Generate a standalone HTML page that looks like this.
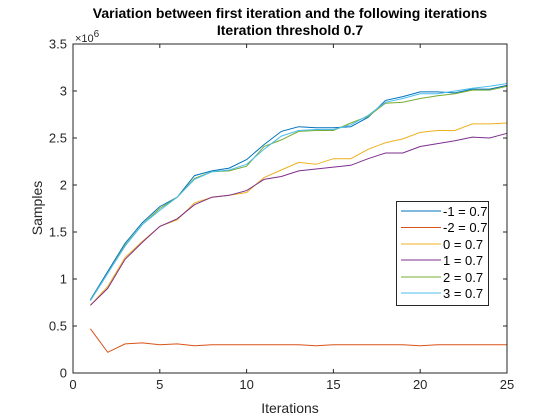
<!DOCTYPE html>
<html><head><meta charset="utf-8"><style>
body{margin:0;background:#fff;}
svg{display:block;font-family:"Liberation Sans",Arial,sans-serif;}
</style></head><body>
<svg id="chart" width="560" height="420">
<rect width="560" height="420" fill="#fff"/>
</svg>
<script>
const xValues=[1,2,3,4,5,6,7,8,9,10,11,12,13,14,15,16,17,18,19,20,21,22,23,24,25];
const seriesM1=[0.78,1.08,1.38,1.6,1.77,1.87,2.1,2.15,2.18,2.27,2.43,2.57,2.62,2.61,2.61,2.62,2.72,2.9,2.94,2.99,2.99,2.98,3.02,3.02,3.06];
const seriesM2=[0.47,0.22,0.31,0.32,0.3,0.31,0.29,0.3,0.3,0.3,0.3,0.3,0.3,0.29,0.3,0.3,0.3,0.3,0.3,0.29,0.3,0.3,0.3,0.3,0.3];
const series0=[0.72,0.92,1.23,1.4,1.56,1.63,1.81,1.87,1.89,1.92,2.08,2.16,2.24,2.22,2.28,2.28,2.38,2.45,2.49,2.56,2.58,2.58,2.65,2.65,2.66];
const series1=[0.72,0.9,1.21,1.39,1.56,1.64,1.79,1.87,1.89,1.94,2.06,2.09,2.15,2.17,2.19,2.21,2.28,2.34,2.34,2.41,2.44,2.47,2.51,2.5,2.55];
const series2=[0.77,1.06,1.36,1.58,1.75,1.87,2.07,2.14,2.15,2.2,2.41,2.48,2.57,2.58,2.58,2.66,2.73,2.87,2.88,2.92,2.95,2.97,3.01,3.01,3.05];
const series3=[0.77,1.06,1.35,1.58,1.73,1.87,2.06,2.14,2.16,2.22,2.38,2.52,2.58,2.59,2.59,2.64,2.74,2.88,2.92,2.97,2.97,3.0,3.03,3.05,3.08];
const seriesNames=["-1 = 0.7","-2 = 0.7","0 = 0.7","1 = 0.7","2 = 0.7","3 = 0.7"];
const xTicks=[0,5,10,15,20,25];
const yTicks=[0,0.5,1,1.5,2,2.5,3,3.5];
const yTickLabels=["0","0.5","1","1.5","2","2.5","3","3.5"];

const L=73,R=507,T=44,B=373;
const xs=v=>L+(v-0)/(25-0)*(R-L);
const ys=v=>B-(v-0)/(3.5-0)*(B-T);
const svg=document.getElementById('chart');
const NS='http://www.w3.org/2000/svg';
function mk(tag,attrs,parent){const e=document.createElementNS(NS,tag);for(const k in attrs)e.setAttribute(k,attrs[k]);(parent||svg).appendChild(e);return e;}

const colors=["#0072BD","#D95319","#EDB120","#7E2F8E","#77AC30","#4DBEEE"];
const allSeries=[seriesM1,seriesM2,series0,series1,series2,series3];
const drawOrder=[0,1,2,3,4,5];
drawOrder.forEach(i=>{
  const pts=allSeries[i].map((v,j)=>xs(xValues[j]).toFixed(1)+','+ys(v).toFixed(1)).join(' ');
  const p=mk('polyline',{points:pts,fill:'none',stroke:colors[i],'stroke-width':1});
  
  
});

// axes box
const box=mk('rect',{x:L,y:T,width:R-L,height:B-T,fill:'none',stroke:'#262626','stroke-width':1});



xTicks.forEach(t=>{
  const x=xs(t);
  mk('line',{x1:x,x2:x,y1:B,y2:B-4,stroke:'#262626'});
  mk('line',{x1:x,x2:x,y1:T,y2:T+4,stroke:'#262626'});
  const tx=mk('text',{x:x,y:B+16,'text-anchor':'middle','font-size':13,fill:'#262626'});
  tx.textContent=t;
  
  
});
yTicks.forEach((t,i)=>{
  const y=ys(t);
  mk('line',{x1:L,x2:L+4,y1:y,y2:y,stroke:'#262626'});
  mk('line',{x1:R,x2:R-4,y1:y,y2:y,stroke:'#262626'});
  const tx=mk('text',{x:L-6,y:y+4.5,'text-anchor':'end','font-size':13,fill:'#262626'});
  tx.textContent=yTickLabels[i];
  
  
});
</script>
<svg width="560" height="420" style="position:absolute;left:0;top:0;font-family:'Liberation Sans',Arial,sans-serif">
<text x="75" y="42" font-size="11" fill="#262626">×10<tspan dy="-5" font-size="10">6</tspan></text>
<text x="290" y="18" text-anchor="middle" font-size="14" font-weight="bold" fill="#000">Variation between first iteration and the following iterations</text>
<text x="290" y="35" text-anchor="middle" font-size="14" font-weight="bold" fill="#000">Iteration threshold 0.7</text>
<text x="290" y="413" text-anchor="middle" font-size="14" fill="#262626">Iterations</text>
<text transform="translate(42,208) rotate(-90)" text-anchor="middle" font-size="14" fill="#262626">Samples</text>
<g>
<rect x="396.5" y="201.5" width="92" height="104" fill="#fff" stroke="#262626"/>
<g><line x1="401" x2="441" y1="211" y2="211" stroke="#0072BD"/><text x="443" y="216" font-size="13" fill="#000">-1 = 0.7</text></g>
<g><line x1="401" x2="441" y1="227.5" y2="227.5" stroke="#D95319"/><text x="443" y="232" font-size="13" fill="#000">-2 = 0.7</text></g>
<g><line x1="401" x2="441" y1="244" y2="244" stroke="#EDB120"/><text x="443" y="249" font-size="13" fill="#000">0 = 0.7</text></g>
<g><line x1="401" x2="441" y1="260" y2="260" stroke="#7E2F8E"/><text x="443" y="265" font-size="13" fill="#000">1 = 0.7</text></g>
<g><line x1="401" x2="441" y1="277" y2="277" stroke="#77AC30"/><text x="443" y="282" font-size="13" fill="#000">2 = 0.7</text></g>
<g><line x1="401" x2="441" y1="293" y2="293" stroke="#4DBEEE"/><text x="443" y="298" font-size="13" fill="#000">3 = 0.7</text></g>
</g>
</svg>
</body></html>
